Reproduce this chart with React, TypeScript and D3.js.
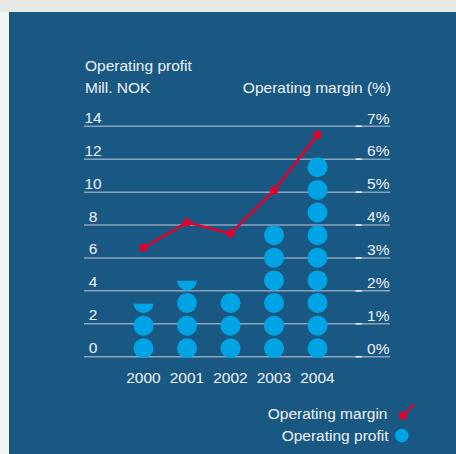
import React from "react";
import * as d3 from "d3";

const years = ["2000", "2001", "2002", "2003", "2004"];
const operatingProfit = [3.4, 4.8, 4.1, 8.2, 12.4]; // Mill. NOK
const operatingMargin = [3.31, 4.08, 3.74, 5.05, 6.74]; // %
const leftTicks = [0, 2, 4, 6, 8, 10, 12, 14];
const rightTicks = [0, 1, 2, 3, 4, 5, 6, 7];
const dotUnit = 1.375; // Mill. NOK per dot

const W = 456;
const H = 454;
const BG = "#1a5884";
const BLUE = "#00a4e4";
const RED = "#e2002b";
const TXT = "#eef2f6";
const GRID = "#8aa3bc";
const FONT = "'Liberation Sans', Arial, sans-serif";

export default function App() {
  const x = d3.scalePoint<string>().domain(years).range([143.5, 317.5]);
  const y = d3.scaleLinear().domain([0, 14]).range([356.7, 126.3]);
  const yR = d3.scaleLinear().domain([0, 7]).range([356.7, 126.3]);
  const gridX0 = 84;
  const gridX1 = 390;
  const r = 10;
  const pitch = y(0) - y(dotUnit);
  const shift = 2.9;

  const line = d3
    .line<number>()
    .x((_, i) => x(years[i]) as number)
    .y((d) => yR(d));

  return (
    <div style={{ position: "fixed", left: 0, top: 0, width: W, height: H }}>
      <svg width={W} height={H} style={{ display: "block" }} fontFamily={FONT}>
        <rect x={0} y={0} width={W} height={H} fill="#e8e8e4" />
        <rect x={0} y={12} width={9} height={H - 12} fill="#f3f5f1" />
        <rect x={9} y={12} width={W - 9} height={H - 12} fill={BG} />

        <text x={85} y={71} fontSize={15.5} fill={TXT}>Operating profit</text>
        <text x={85} y={92.7} fontSize={15.5} fill={TXT}>Mill. NOK</text>
        <text x={391} y={92.7} fontSize={15.5} fill={TXT} textAnchor="end">
          Operating margin (%)
        </text>

        {leftTicks.map((t) => (
          <g key={"l" + t}>
            <line x1={gridX0} x2={gridX1} y1={y(t)} y2={y(t)} stroke={GRID} strokeWidth={1.5} />
            <text x={93} y={y(t) - 3.5} fontSize={15.5} fill={TXT} textAnchor="middle">
              {t}
            </text>
          </g>
        ))}
        {rightTicks.map((t) => (
          <g key={"r" + t}>
            <line x1={355.7} x2={361.7} y1={yR(t)} y2={yR(t)} stroke="#f4f6f8" strokeWidth={1.5} />
            <text x={389.5} y={yR(t) - 2.8} fontSize={15.5} fill={TXT} textAnchor="end">
              {t + "%"}
            </text>
          </g>
        ))}

        <defs>
          {years.map((yr, i) => {
            const n = operatingProfit[i] / dotUnit;
            const clipY = y(0) + 3.1 - n * pitch;
            return (
              <clipPath id={"clip" + yr} key={"c" + yr}>
                <rect x={(x(yr) as number) - 15} y={clipY} width={30} height={y(0) + 20 - clipY} />
              </clipPath>
            );
          })}
        </defs>

        {years.map((yr, i) => {
          const n = operatingProfit[i] / dotUnit;
          const count = Math.ceil(n - 0.1);
          const cx = x(yr) as number;
          return (
            <g key={"d" + yr} clipPath={`url(#clip${yr})`}>
              {d3.range(count).map((k) => (
                <circle key={k} cx={cx} cy={y(dotUnit * (k + 0.5)) + shift} r={r} fill={BLUE} />
              ))}
            </g>
          );
        })}

        <path d={line(operatingMargin) || ""} fill="none" stroke={RED} strokeWidth={2.5} />
        {operatingMargin.map((m, i) => (
          <circle key={"m" + i} cx={x(years[i]) as number} cy={yR(m)} r={4} fill={RED} />
        ))}

        {years.map((yr) => (
          <text key={"t" + yr} x={x(yr) as number} y={382.7} fontSize={15.5} fill={TXT} textAnchor="middle">
            {yr}
          </text>
        ))}

        <text x={387.5} y={419.3} fontSize={15.5} fill={TXT} textAnchor="end">Operating margin</text>
        <line x1={403} x2={414.5} y1={415.5} y2={404} stroke={RED} strokeWidth={2.2} />
        <circle cx={403} cy={415.5} r={4} fill={RED} />
        <text x={388.5} y={440.7} fontSize={15.5} fill={TXT} textAnchor="end">Operating profit</text>
        <circle cx={401.8} cy={435.5} r={6.8} fill={BLUE} />
      </svg>
    </div>
  );
}
